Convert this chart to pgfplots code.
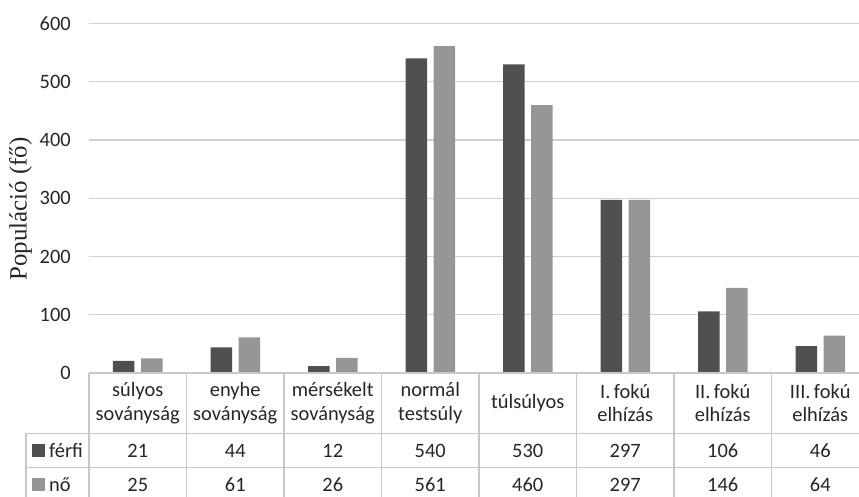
\documentclass[border=0pt]{standalone}
\usepackage{pgfplots}
\pgfplotsset{compat=1.18}
\usepackage{fontspec}
\setmainfont{Carlito}
\newfontfamily\timesf{Liberation Serif}

\definecolor{ferfi}{HTML}{505050}
\definecolor{no}{HTML}{969696}
\definecolor{gridgray}{HTML}{D0D0D0}
\definecolor{tablegray}{HTML}{C8C8C8}

\begin{document}
\begin{tikzpicture}[x=1bp,y=1bp]
\path[use as bounding box] (-89,-124) rectangle (770,373);
\begin{axis}[
    at={(0,0)}, anchor=south west,
    scale only axis,
    width=780bp, height=349.5bp,
    xmin=-0.5, xmax=7.5,
    ymin=0, ymax=600,
    ytick={0,100,...,600},
    xtick=\empty,
    axis line style={draw=none},
    major tick length=0pt,
    ymajorgrids,
    grid style={draw=gridgray, line width=1.3bp},
    /pgf/number format/assume math mode=true,
    yticklabel style={font=\fontsize{20.5}{24}\selectfont, color=black!85,
        inner sep=0pt, anchor=east, xshift=-18bp},
    ylabel={Populáció (fő)},
    ylabel style={font=\timesf\fontsize{25}{28}\selectfont, color=black!85,
        at={(axis description cs:-0.0878,0.469)}, anchor=center},
    clip=false,
]
% férfi
\addplot[ybar, bar width=21.5bp, bar shift=-14bp, fill=ferfi, draw=none]
coordinates {(0,21) (1,44) (2,12) (3,540) (4,530) (5,297) (6,106) (7,46)};
% nő
\addplot[ybar, bar width=21.5bp, bar shift=14bp, fill=no, draw=none]
coordinates {(0,25) (1,61) (2,26) (3,561) (4,460) (5,297) (6,146) (7,64)};
\end{axis}

% data table under the axis
\begin{scope}[tablegray, line width=1.2bp]
  \draw (0,0) -- (780,0);
  \draw (-63,-60.5) -- (780,-60.5);
  \draw (-63,-94.5) -- (780,-94.5);
  \draw (-63,-60.5) -- (-63,-130);
  \foreach \i in {0,...,8} \draw (\i*97.5,0) -- (\i*97.5,-130);
\end{scope}

\begin{scope}[every node/.style={font=\fontsize{20.5}{23.5}\selectfont, color=black!85, align=center, inner sep=0pt}]
  \foreach \i/\name in {0/{súlyos\\soványság}, 1/{enyhe\\soványság}, 2/{mérsékelt\\soványság},
      3/{normál\\testsúly}, 4/{túlsúlyos}, 5/{I.\,fokú\\elhízás}, 6/{II.\,fokú\\elhízás},
      7/{III.\,fokú\\elhízás}}
    \node at ({(\i+0.5)*97.5},-30) {\name};
  \foreach \i/\v in {0/21,1/44,2/12,3/540,4/530,5/297,6/106,7/46}
    \node at ({(\i+0.5)*97.5},-77.5) {\v};
  \foreach \i/\v in {0/25,1/61,2/26,3/561,4/460,5/297,6/146,7/64}
    \node at ({(\i+0.5)*97.5},-111.5) {\v};
  \fill[ferfi] (-56.5,-84) rectangle (-43.5,-71);
  \node[anchor=west] at (-40,-77.5) {férfi};
  \fill[no] (-56.5,-118) rectangle (-43.5,-105);
  \node[anchor=west] at (-40,-111.5) {nő};
\end{scope}
\end{tikzpicture}
\end{document}
